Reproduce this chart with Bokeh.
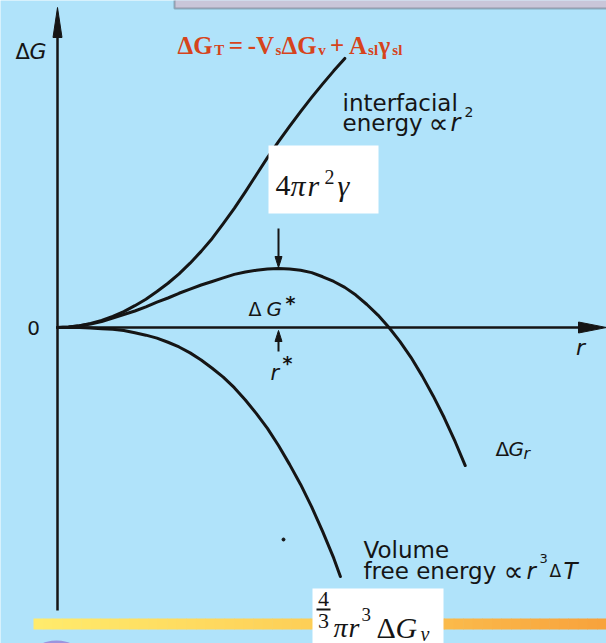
from bokeh.plotting import figure
from bokeh.models import Range1d, Label, BoxAnnotation
from bokeh.embed import file_html
from bokeh.resources import INLINE

# Nucleus radius r in units of the critical radius r*, free energy in units of the barrier ΔG*
r_interfacial = [0.00, 0.05, 0.10, 0.15, 0.20, 0.25, 0.30, 0.35, 0.40, 0.45, 0.50, 0.55, 0.60,
                 0.65, 0.70, 0.75, 0.80, 0.85, 0.90, 0.95, 1.00, 1.05, 1.10, 1.15, 1.20, 1.25, 1.30]
g_interfacial = [0.00, 0.01, 0.03, 0.07, 0.12, 0.19, 0.27, 0.37, 0.48, 0.61, 0.75, 0.91, 1.09,
                 1.29, 1.51, 1.76, 2.02, 2.30, 2.59, 2.88, 3.15, 3.41, 3.66, 3.90, 4.13, 4.35, 4.56]

r_total = [0.00, 0.05, 0.10, 0.15, 0.20, 0.25, 0.30, 0.35, 0.40, 0.45, 0.50, 0.55, 0.60, 0.65,
           0.70, 0.75, 0.80, 0.85, 0.90, 0.95, 1.00, 1.05, 1.10, 1.15, 1.20, 1.25, 1.30, 1.35,
           1.40, 1.45, 1.50, 1.55, 1.60, 1.65, 1.70, 1.75, 1.80, 1.845]
g_total = [0.00, 0.01, 0.03, 0.06, 0.10, 0.16, 0.22, 0.28, 0.35, 0.43, 0.50, 0.58, 0.65, 0.72,
           0.78, 0.84, 0.90, 0.94, 0.97, 0.99, 1.00, 0.99, 0.97, 0.93, 0.86, 0.78, 0.68, 0.55,
           0.39, 0.21, 0.00, -0.24, -0.51, -0.82, -1.16, -1.53, -1.94, -2.34]

r_volume = [0.00, 0.05, 0.10, 0.15, 0.20, 0.25, 0.30, 0.35, 0.40, 0.45, 0.50, 0.55, 0.60, 0.65,
            0.70, 0.75, 0.80, 0.85, 0.90, 0.95, 1.00, 1.05, 1.10, 1.15, 1.20, 1.25, 1.28]
g_volume = [0.00, 0.00, 0.00, -0.01, -0.02, -0.03, -0.05, -0.09, -0.13, -0.18, -0.25, -0.33,
            -0.43, -0.55, -0.69, -0.84, -1.02, -1.23, -1.46, -1.71, -2.00, -2.32, -2.66, -3.04,
            -3.46, -3.91, -4.22]

W, H = 606, 643
ORIGIN_X, ORIGIN_Y = 57, 327      # canvas pixel of the origin
PX_PER_R, PX_PER_G = 221, 59      # canvas pixels per unit of r and of ΔG

INK = "#151515"
SKY = "#b0e3fa"
RED = "#d6441c"


def dx(px):
    return (px - ORIGIN_X) / PX_PER_R


def dy(py):
    return (ORIGIN_Y - py) / PX_PER_G


def lx(n):
    return n / PX_PER_R


def ly(n):
    return n / PX_PER_G


p = figure(width=W, height=H, x_range=Range1d(dx(0), dx(W)), y_range=Range1d(dy(H), dy(0)),
           output_backend="svg", toolbar_location=None, x_axis_type=None, y_axis_type=None,
           min_border=0, background_fill_color=SKY, border_fill_color=SKY,
           outline_line_color=None)

# header strip along the top edge
p.add_layout(BoxAnnotation(left=dx(174), right=dx(W + 20), top=dy(-20), bottom=dy(8),
                           fill_color="#c9c6d9", fill_alpha=1, line_color="#26323d",
                           line_width=2))

# yellow-to-orange rule near the bottom
stops = [(0.0, (255, 236, 108)), (0.5, (253, 205, 86)), (1.0, (248, 162, 60))]


def blend(t):
    for (t0, c0), (t1, c1) in zip(stops[:-1], stops[1:]):
        if t <= t1:
            f = (t - t0) / (t1 - t0)
            return "#%02x%02x%02x" % tuple(int(round(a + (b - a) * f)) for a, b in zip(c0, c1))
    return "#%02x%02x%02x" % stops[-1][1]


n_seg = 60
bar_left, bar_right = 33, W
seg_w = (bar_right - bar_left) / n_seg
p.quad(left=[dx(bar_left + i * seg_w) for i in range(n_seg)],
       right=[dx(bar_left + (i + 1) * seg_w + 0.6) for i in range(n_seg)],
       top=dy(618), bottom=dy(629),
       fill_color=[blend((i + 0.5) / n_seg) for i in range(n_seg)], line_color=None)
p.ellipse(x=dx(56), y=dy(656), width=lx(50), height=ly(32), fill_color="#9c94de",
          line_color=None)

# axes with arrow heads
p.line([0, 0], [dy(610), dy(30)], line_width=2.5, color=INK)
p.patch([-lx(4.5), 0, lx(4.5)], [dy(37), dy(7), dy(37)], color=INK)
p.line([0, dx(584)], [0, 0], line_width=2.5, color=INK)
p.patch([dx(578), dx(W), dx(578)], [ly(5.5), 0, -ly(5.5)], color=INK)

# energy curves
for rr, gg in [(r_interfacial, g_interfacial), (r_total, g_total), (r_volume, g_volume)]:
    p.line(rr, gg, line_width=3, color=INK, line_join="round", line_cap="round")

# critical nucleus markers
i_peak = max(range(len(g_total)), key=lambda i: g_total[i])
r_star, g_star = r_total[i_peak], g_total[i_peak]
p.line([r_star, r_star], [dy(228), g_star + ly(8)], line_width=2, color=INK)
p.patch([r_star - lx(3.5), r_star, r_star + lx(3.5)],
        [g_star + ly(12), g_star + ly(1), g_star + ly(12)], color=INK)
p.line([r_star, r_star], [-ly(24), -ly(10)], line_width=2, color=INK)
p.patch([r_star - lx(3.5), r_star, r_star + lx(3.5)],
        [-ly(14), -ly(3), -ly(14)], color=INK)

p.scatter([dx(283)], [dy(539)], size=3, color=INK)


def text(s, px, py, size, font="DejaVu Sans", style="normal", color=INK,
         align="left", baseline="alphabetic"):
    p.add_layout(Label(x=dx(px), y=dy(py), text=s, text_font=font,
                       text_font_size=f"{size}px", text_font_style=style,
                       text_color=color, text_align=align, text_baseline=baseline,
                       level="overlay"))


# axis labels
text("Δ", 15, 51, 21)
text("G", 29, 51, 22, style="italic")
text("0", 33, 327, 20, align="center", baseline="middle")
text("r", 580, 347, 22, style="italic", align="center", baseline="middle")

# curve labels
text("interfacial", 342, 102, 23)
text("energy", 342, 122, 23)
text("∝", 428, 123, 28)
text("r", 450, 122, 24, style="italic")
text("2", 464, 111, 14)

text("Δ", 248, 308, 19)
text("G", 266, 308, 20, style="italic")
text("*", 285, 302, 19, style="bold")
text("r", 270, 372, 21, style="italic")
text("*", 282, 362, 19, style="bold")

text("Δ", 495, 448, 20)
text("G", 508, 448, 20, style="italic")
text("r", 523, 453, 16, style="italic")

text("Volume", 363, 549, 23)
text("free energy", 363, 570, 23)
text("∝", 503, 571, 28)
text("r", 526, 570, 23, style="italic")
text("3", 539, 558, 13)
text("Δ", 549, 570, 17)
text("T", 563, 570, 23, style="italic")

# total free energy formula
SERIF_BOLD_EM = {"Δ": 0.645, "G": 0.82, "T": 0.70, "=": 0.60, "-": 0.35, "V": 0.76,
                 "s": 0.41, "v": 0.53, "+": 0.60, "A": 0.76, "l": 0.29, "γ": 0.55}
formula = [("ΔG", False, 0), ("T", True, 0), ("=", False, 4), ("-V", False, 4), ("s", True, 0),
           ("ΔG", False, 0), ("v", True, 0), ("+", False, 4), ("A", False, 4), ("sl", True, 0),
           ("γ", False, 0), ("sl", True, 0)]
x_cur = 177
for piece, is_sub, gap in formula:
    x_cur += gap
    size = 15 if is_sub else 25
    text(piece, x_cur, 49 if is_sub else 45, size, font="Liberation Serif", style="bold",
         color=RED)
    x_cur += sum(SERIF_BOLD_EM[c] for c in piece) * size

# white boxes holding the surface and volume terms
p.add_layout(BoxAnnotation(left=dx(268), right=dx(378), top=dy(145), bottom=dy(213),
                           fill_color="white", fill_alpha=1, line_color=None))
text("4", 275, 185, 30, font="Liberation Serif")
text("π", 290, 185, 30, font="Liberation Serif", style="italic")
text("r", 307, 185, 30, font="Liberation Serif", style="italic")
text("2", 324, 176, 20, font="Liberation Serif")
text("γ", 337, 185, 30, font="Liberation Serif", style="italic")

p.add_layout(BoxAnnotation(left=dx(312), right=dx(443), top=dy(588), bottom=dy(H + 20),
                           fill_color="white", fill_alpha=1, line_color=None))
text("4", 323, 598, 22, font="Liberation Serif", align="center", baseline="middle")
text("3", 323, 620, 22, font="Liberation Serif", align="center", baseline="middle")
p.add_layout(BoxAnnotation(left=dx(316), right=dx(330), top=dy(608), bottom=dy(610),
                           fill_color=INK, fill_alpha=1, line_color=None, level="overlay"))
text("π", 333, 627, 28, font="Liberation Serif", style="italic")
text("r", 348, 627, 28, font="Liberation Serif", style="italic")
text("3", 361, 614, 19, font="Liberation Serif")
text("Δ", 376, 627, 30, font="Liberation Serif")
text("G", 395, 627, 30, font="Liberation Serif", style="italic")
text("v", 420, 633, 20, font="Liberation Serif", style="italic")

open("out.html", "w").write(file_html(p, INLINE))
